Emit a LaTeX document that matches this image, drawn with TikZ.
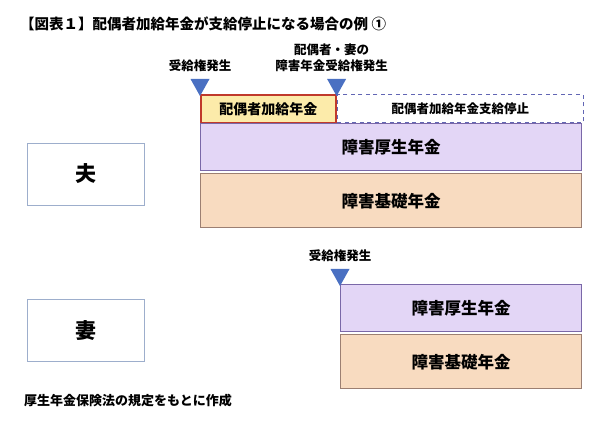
\documentclass[tikz,border=0pt]{standalone}
\usepackage{fontspec}
\setmainfont{Noto Sans CJK JP}
\usetikzlibrary{positioning}

\definecolor{kasanfill}{HTML}{FCEBAA}
\definecolor{kasanline}{HTML}{C0392B}
\definecolor{kouseifill}{HTML}{E3D6F6}
\definecolor{kouseiline}{HTML}{7A68A8}
\definecolor{kisofill}{HTML}{F8DBC0}
\definecolor{kisoline}{HTML}{9C7F72}
\definecolor{triblue}{HTML}{4A70C2}
\definecolor{stopline}{HTML}{6266B4}
\definecolor{personline}{HTML}{9DAECC}

\tikzset{
  bar/.style={draw, line width=1.2pt, inner sep=0pt, font=\bfseries\fontsize{16.5}{16.5}\selectfont},
  kasan/.style={bar, fill=kasanfill, draw=kasanline, line width=1.6pt,
    minimum width=135pt, minimum height=28pt, font=\bfseries\fontsize{14}{14}\selectfont},
  teishi/.style={bar, draw=stopline, dash pattern=on 4pt off 3.5pt, line width=1.3pt,
    minimum width=246pt, minimum height=28pt, font=\bfseries\fontsize{12.5}{12.5}\selectfont},
  kousei/.style={bar, fill=kouseifill, draw=kouseiline, minimum height=47pt},
  kiso/.style={bar, fill=kisofill, draw=kisoline, minimum height=54pt},
  person/.style={draw=personline, line width=0.8pt, minimum width=117pt, minimum height=62pt,
    font=\bfseries\fontsize{21}{21}\selectfont},
  lbl/.style={inner sep=0pt, align=center, font=\bfseries\fontsize{12.5}{16}\selectfont},
  tri/.style={fill=triblue}
}

\begin{document}
\begin{tikzpicture}[x=1pt, y=-1pt]
  \useasboundingbox (0,0) rectangle (599,427);

  \node[anchor=west, inner sep=0pt, font=\bfseries\fontsize{14.5}{14.5}\selectfont] (title) at (20,24)
    {【図表１】配偶者加給年金が支給停止になる場合の例 ①};

  % husband
  \node[person] (otto) at (85.5,174) {夫};
  \node[kasan, anchor=north west] (kasan) at (200,94) {配偶者加給年金};
  \node[teishi, right=0pt of kasan] (teishi) {配偶者加給年金支給停止};
  \node[kousei, minimum width=381pt, anchor=north west] (kousei1) at (200,123) {障害厚生年金};
  \node[kiso, minimum width=381pt, below=2pt of kousei1] (kiso1) {障害基礎年金};

  \fill[tri] ([yshift=-2pt]kasan.north west) -- ++(-9.5,-17) -- ++(19,0) -- cycle;
  \fill[tri] ([yshift=-2pt]kasan.north east) -- ++(-9.5,-17) -- ++(19,0) -- cycle;
  \node[lbl, above=22pt of kasan.north west] (hatsu1) {受給権発生};
  \node[lbl, above=22pt of kasan.north east, xshift=-5pt] (hatsu2) {配偶者・妻の\\障害年金受給権発生};

  % wife
  \node[person] (tsuma) at (85.5,330.5) {妻};
  \node[kousei, minimum width=241pt, anchor=north west] (kousei2) at (340,284) {障害厚生年金};
  \node[kiso, minimum width=241pt, below=2pt of kousei2] (kiso2) {障害基礎年金};

  \fill[tri] ([yshift=-2pt]kousei2.north west) -- ++(-9.5,-17) -- ++(19,0) -- cycle;
  \node[lbl, above=22pt of kousei2.north west] (hatsu3) {受給権発生};

  \node[anchor=west, inner sep=0pt, font=\bfseries\fontsize{13}{13}\selectfont] (note) at (24,401)
    {厚生年金保険法の規定をもとに作成};
\end{tikzpicture}
\end{document}
